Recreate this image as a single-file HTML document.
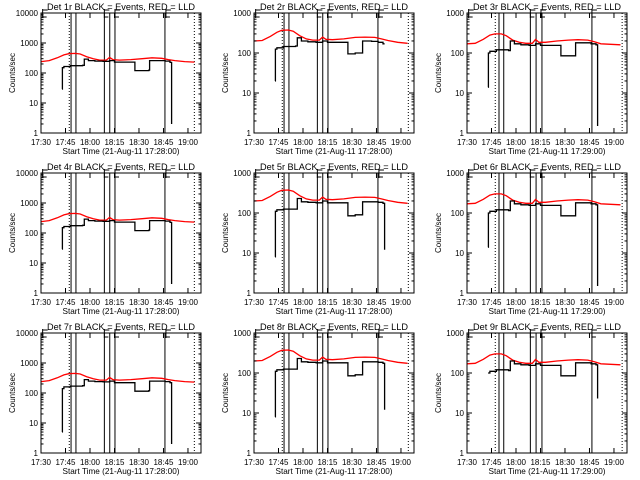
<!DOCTYPE html>
<html><head><meta charset="utf-8"><style>
body{margin:0;background:#fff;}
svg{display:block;font-family:"Liberation Sans",sans-serif;}
</style></head><body>
<svg id="chart" width="640" height="480" viewBox="0 0 640 480" xmlns="http://www.w3.org/2000/svg">
<rect width="640" height="480" fill="#fff"/>
</svg>
<script>
// ---- data (minutes after 17:30, counts/sec) ----
const xTickLabels = ["17:30","17:45","18:00","18:15","18:30","18:45","19:00"];
const detNames = ["1r","2r","3r","4r","5r","6r","7r","8r","9r"];
const startTimes = ["17:28:00","17:28:00","17:29:00","17:28:00","17:28:00","17:29:00","17:28:00","17:28:00","17:29:00"];
const decades = [4,3,3,4,3,3,4,3,3];

const redT = [0,5,10,14,17,21,24,28,32,36,40,42,44,48,55,62,68,74,78,82,88,94];
const redCol1 = [240,260,320,400,440,450,430,350,300,270,270,330,280,270,280,300,320,310,280,260,240,230];
const redCol2 = [200,205,260,330,370,375,350,270,225,210,210,250,220,215,225,245,250,245,225,205,185,175];
const redCol3 = [170,175,220,280,300,300,270,210,185,175,175,220,185,185,200,210,215,210,190,170,165,160];

const blackT = [12.9,13.1,14,18,25.5,26.5,29,33,38,42,45,57,57.5,62,66,66.5,72,76,79,80];
const blackCol1 = [29,150,165,175,180,290,260,250,245,260,230,230,120,120,125,260,260,250,225,2];
const blackCol2 = [20,125,135,145,150,240,200,190,185,200,185,185,95,100,100,200,195,185,170,170];
const blackCol2b = [8,110,120,125,125,230,190,185,180,200,180,180,85,90,90,190,190,185,175,12];
const blackCol3 = [14,100,110,120,115,200,170,160,155,170,155,155,85,85,85,180,180,170,160,1.5];
const blackCol3b = [100,100,110,120,115,200,170,160,155,170,155,155,85,85,85,180,180,170,160,23];
const blackCol1b = [5,140,160,170,175,280,250,240,235,250,220,220,115,115,120,250,250,240,220,2];

const redSeries = [redCol1,redCol2,redCol3,redCol1,redCol2,redCol3,redCol1,redCol2,redCol3];
const blackSeries = [blackCol1,blackCol2,blackCol3,blackCol1,blackCol2b,blackCol3,blackCol1b,blackCol2b,blackCol3b];

const solidLinesCol = [[18.4,21.4,38.8,42.1,45.3,75.9],[18.4,21.4,38.8,42.1,45.3,75.9],[19.6,22.5,38.8,42.3,45.9,76.5]];
const dottedLinesCol = [[17.3,93.9],[17.3,94.5],[17.3,95]];
const flagT = [1,38.8,45.3,76.5];

// ---- drawing ----
const NS="http://www.w3.org/2000/svg";
const svg=document.getElementById('chart');
function mk(tag,attrs,parent){const e=document.createElementNS(NS,tag);for(const k in attrs)e.setAttribute(k,attrs[k]);(parent||svg).appendChild(e);return e;}
const L=41,R=201,T=13,B=133,PXMIN=1.633;

for(let p=0;p<9;p++){
  const ox=(p%3)*213, oy=Math.floor(p/3)*160, col=p%3;
  const g=mk('g',{transform:`translate(${ox},${oy})`});
  
  
  const nd=decades[p];
  const xs=m=>L+m*PXMIN;
  const ys=v=>T+(nd-Math.log10(v))*(B-T)/nd;

  const title=mk('text',{x:121,y:10,'font-size':9.5,'text-anchor':'middle',textLength:148,lengthAdjust:'spacingAndGlyphs'},g);
  title.textContent=`Det ${detNames[p]} BLACK = Events, RED = LLD`;
  
  

  // vertical event lines
  solidLinesCol[col].forEach(m=>{
    const l=mk('line',{x1:xs(m),x2:xs(m),y1:T,y2:B,stroke:'#000','stroke-width':1},g);
    
    
  });
  dottedLinesCol[col].forEach(m=>{
    const l=mk('line',{x1:xs(m),x2:xs(m),y1:T,y2:B,stroke:'#000','stroke-width':1,'stroke-dasharray':'1,2'},g);
    
    
  });
  flagT.forEach(m=>{
    const f=mk('path',{d:`M${xs(m)},${T-4}V${T+5}M${xs(m)},${T-3}h5M${xs(m)},${T+4}h4`,stroke:'#000',fill:'none','stroke-width':1},g);
    
    
  });

  // red series
  const rd=redT.map((t,i)=>`${i?'L':'M'}${xs(t).toFixed(1)},${ys(redSeries[p][i]).toFixed(1)}`).join('');
  const rp=mk('path',{d:rd,stroke:'#f00',fill:'none','stroke-width':1.3},g);
  
  
  // black step series
  const bv=blackSeries[p];
  let bd=`M${xs(blackT[0]).toFixed(1)},${ys(bv[0]).toFixed(1)}`;
  for(let i=1;i<blackT.length;i++){bd+=`L${xs(blackT[i]).toFixed(1)},${ys(bv[i-1]).toFixed(1)}L${xs(blackT[i]).toFixed(1)},${ys(bv[i]).toFixed(1)}`;}
  const bp=mk('path',{d:bd,stroke:'#000',fill:'none','stroke-width':1.3},g);
  
  

  // axes box
  const box=mk('rect',{x:L,y:T,width:R-L,height:B-T,fill:'none',stroke:'#000','stroke-width':1},g);
  
  

  // x ticks
  xTickLabels.forEach((lab,i)=>{
    const x=xs(i*15);
    mk('line',{x1:x,x2:x,y1:B,y2:B-5,stroke:'#000'},g);
    mk('line',{x1:x,x2:x,y1:T,y2:T+5,stroke:'#000'},g);
    const tx=mk('text',{x:x,y:145,'font-size':8,'text-anchor':'middle'},g);
    tx.textContent=lab;
    
    
  });
  const xt=mk('text',{x:121,y:154,'font-size':8.5,'text-anchor':'middle',textLength:117,lengthAdjust:'spacingAndGlyphs'},g);
  xt.textContent=`Start Time (21-Aug-11 ${startTimes[p]})`;
  
  

  // y ticks
  for(let d=0;d<=nd;d++){
    const v=Math.pow(10,d), y=ys(v);
    mk('line',{x1:L,x2:L+5,y1:y,y2:y,stroke:'#000'},g);
    mk('line',{x1:R,x2:R-5,y1:y,y2:y,stroke:'#000'},g);
    const ty=mk('text',{x:38,y:y+3,'font-size':8,'text-anchor':'end'},g);
    ty.textContent=String(v);
    
    
    if(d<nd) for(let k=2;k<10;k++){const yy=ys(v*k);
      mk('line',{x1:L,x2:L+2.5,y1:yy,y2:yy,stroke:'#000'},g);
      mk('line',{x1:R,x2:R-2.5,y1:yy,y2:yy,stroke:'#000'},g);}
  }
  const yl=mk('text',{x:0,y:0,'font-size':8,'text-anchor':'middle',transform:`translate(15,${(T+B)/2}) rotate(-90)`},g);
  yl.textContent='Counts/sec';
  
  
}
</script>
</body></html>
